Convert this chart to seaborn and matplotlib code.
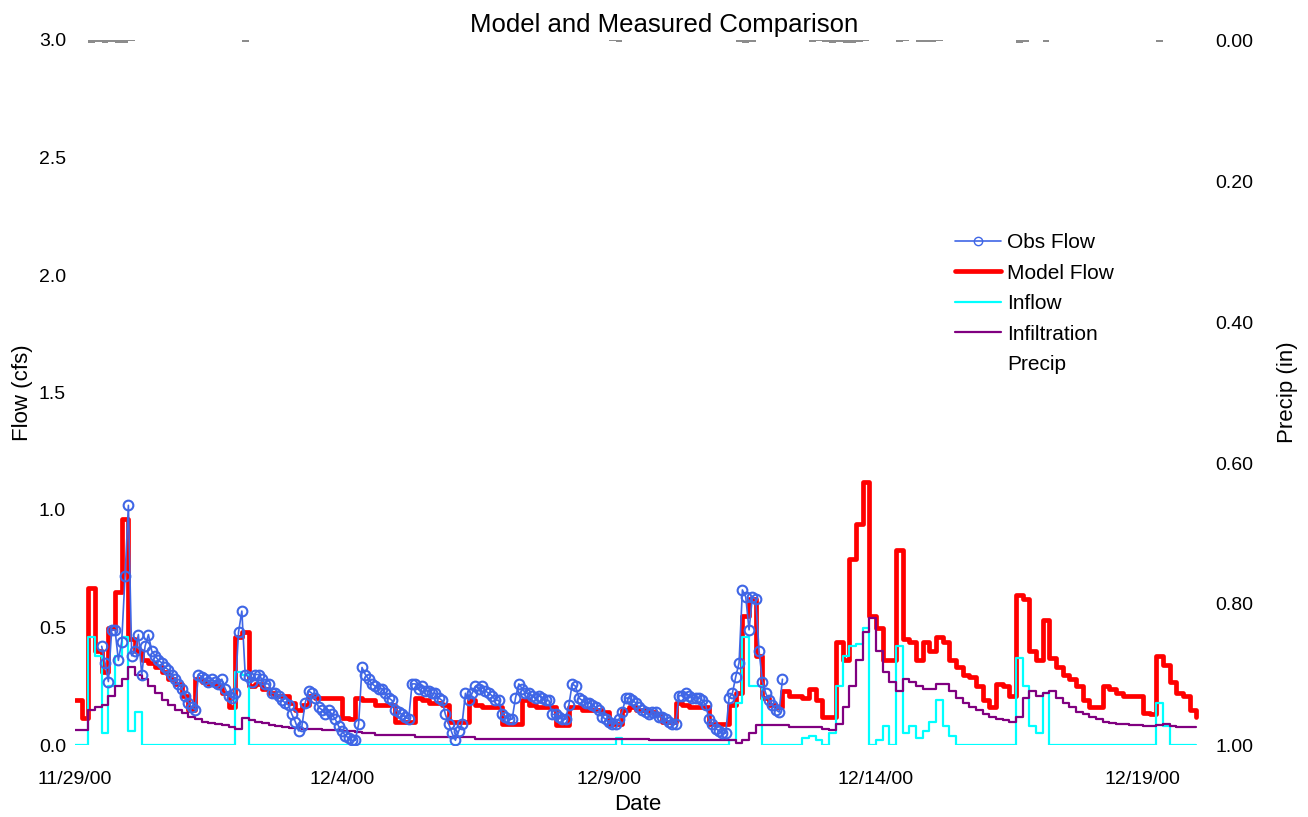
import pandas as pd
import matplotlib
matplotlib.use("Agg")
import matplotlib.pyplot as plt
from matplotlib.lines import Line2D
import seaborn as sns

# ---------------- data ----------------
# simulated series: 3-hour steps from 11/29/2000 00:00, one line per day
series_start = "2000-11-29 00:00"
model_flow = [
    0.19, 0.115, 0.67, 0.40, 0.31, 0.50, 0.65, 0.96,
    0.45, 0.40, 0.36, 0.35, 0.33, 0.31, 0.28, 0.26,
    0.21, 0.15, 0.28, 0.27, 0.26, 0.25, 0.22, 0.16,
    0.46, 0.48, 0.25, 0.26, 0.24, 0.22, 0.21, 0.21,
    0.18, 0.15, 0.17, 0.21, 0.20, 0.20, 0.20, 0.20,
    0.115, 0.11, 0.20, 0.19, 0.19, 0.17, 0.17, 0.17,
    0.10, 0.10, 0.10, 0.20, 0.19, 0.18, 0.18, 0.17,
    0.10, 0.10, 0.10, 0.19, 0.17, 0.16, 0.16, 0.16,
    0.09, 0.09, 0.09, 0.19, 0.17, 0.16, 0.16, 0.16,
    0.085, 0.085, 0.16, 0.16, 0.15, 0.15, 0.15, 0.14,
    0.09, 0.09, 0.15, 0.16, 0.15, 0.15, 0.14, 0.13,
    0.10, 0.10, 0.18, 0.17, 0.16, 0.16, 0.16, 0.09,
    0.09, 0.09, 0.17, 0.22, 0.55, 0.62, 0.38, 0.20,
    0.17, 0.16, 0.23, 0.21, 0.21, 0.20, 0.24, 0.19,
    0.12, 0.12, 0.44, 0.36, 0.79, 0.94, 1.12, 0.55,
    0.50, 0.36, 0.36, 0.83, 0.45, 0.44, 0.36, 0.44,
    0.40, 0.46, 0.44, 0.36, 0.33, 0.30, 0.29, 0.25,
    0.19, 0.16, 0.26, 0.25, 0.21, 0.64, 0.62, 0.40,
    0.36, 0.53, 0.37, 0.33, 0.30, 0.28, 0.25, 0.19,
    0.16, 0.16, 0.25, 0.24, 0.22, 0.21, 0.21, 0.21,
    0.135, 0.13, 0.38, 0.34, 0.27, 0.22, 0.21, 0.15,
    0.12,
]

inflow = [
    0.00, 0.00, 0.46, 0.38, 0.05, 0.25, 0.38, 0.46,
    0.06, 0.14, 0.00, 0.00, 0.00, 0.00, 0.00, 0.00,
    0.00, 0.00, 0.00, 0.00, 0.00, 0.00, 0.00, 0.00,
    0.31, 0.30, 0.00, 0.00, 0.00, 0.00, 0.00, 0.00,
    0.00, 0.00, 0.00, 0.00, 0.00, 0.00, 0.00, 0.00,
    0.00, 0.00, 0.00, 0.00, 0.00, 0.00, 0.00, 0.00,
    0.00, 0.00, 0.00, 0.00, 0.00, 0.00, 0.00, 0.00,
    0.00, 0.00, 0.00, 0.00, 0.00, 0.00, 0.00, 0.00,
    0.00, 0.00, 0.00, 0.00, 0.00, 0.00, 0.00, 0.00,
    0.00, 0.00, 0.00, 0.00, 0.00, 0.00, 0.00, 0.00,
    0.00, 0.03, 0.00, 0.00, 0.00, 0.00, 0.00, 0.00,
    0.00, 0.00, 0.00, 0.00, 0.00, 0.00, 0.00, 0.00,
    0.00, 0.00, 0.02, 0.18, 0.46, 0.25, 0.25, 0.00,
    0.00, 0.00, 0.00, 0.00, 0.00, 0.03, 0.04, 0.02,
    0.00, 0.05, 0.25, 0.38, 0.42, 0.43, 0.50, 0.00,
    0.02, 0.08, 0.00, 0.42, 0.05, 0.08, 0.03, 0.06,
    0.10, 0.19, 0.08, 0.04, 0.00, 0.00, 0.00, 0.00,
    0.00, 0.00, 0.00, 0.00, 0.00, 0.37, 0.25, 0.08,
    0.05, 0.22, 0.00, 0.00, 0.00, 0.00, 0.00, 0.00,
    0.00, 0.00, 0.00, 0.00, 0.00, 0.00, 0.00, 0.00,
    0.00, 0.00, 0.18, 0.08, 0.00, 0.00, 0.00, 0.00,
    0.00,
]

infiltration = [
    0.064, 0.064, 0.15, 0.16, 0.17, 0.21, 0.25, 0.28,
    0.33, 0.30, 0.28, 0.25, 0.22, 0.19, 0.17, 0.15,
    0.135, 0.12, 0.11, 0.10, 0.095, 0.09, 0.085, 0.075,
    0.07, 0.115, 0.105, 0.098, 0.092, 0.085, 0.08, 0.077,
    0.074, 0.072, 0.07, 0.068, 0.066, 0.064, 0.063, 0.062,
    0.06, 0.058, 0.056, 0.052, 0.05, 0.043, 0.043, 0.043,
    0.043, 0.043, 0.043, 0.036, 0.036, 0.036, 0.036, 0.036,
    0.036, 0.036, 0.036, 0.036, 0.026, 0.026, 0.026, 0.026,
    0.026, 0.026, 0.026, 0.026, 0.026, 0.026, 0.026, 0.026,
    0.026, 0.026, 0.026, 0.026, 0.026, 0.026, 0.026, 0.026,
    0.026, 0.026, 0.026, 0.026, 0.026, 0.026, 0.021, 0.021,
    0.021, 0.021, 0.021, 0.021, 0.021, 0.021, 0.021, 0.021,
    0.021, 0.021, 0.021, 0.01, 0.02, 0.05, 0.085, 0.085,
    0.085, 0.085, 0.085, 0.078, 0.078, 0.078, 0.078, 0.078,
    0.068, 0.065, 0.09, 0.16, 0.25, 0.36, 0.48, 0.54,
    0.40, 0.31, 0.27, 0.23, 0.28, 0.27, 0.25, 0.24,
    0.24, 0.26, 0.26, 0.23, 0.20, 0.18, 0.16, 0.15,
    0.13, 0.12, 0.11, 0.105, 0.10, 0.12, 0.20, 0.23,
    0.21, 0.22, 0.23, 0.20, 0.18, 0.16, 0.14, 0.13,
    0.12, 0.11, 0.10, 0.095, 0.09, 0.088, 0.085, 0.083,
    0.08, 0.08, 0.085, 0.09, 0.08, 0.077, 0.077, 0.077,
    0.077,
]

precip = [
    0.0, 0.0, 0.004, 0.003, 0.004, 0.003, 0.004, 0.004,
    0.002, 0.0, 0.0, 0.0, 0.0, 0.0, 0.0, 0.0,
    0.0, 0.0, 0.0, 0.0, 0.0, 0.0, 0.0, 0.0,
    0.0, 0.003, 0.0, 0.0, 0.0, 0.0, 0.0, 0.0,
    0.0, 0.0, 0.0, 0.0, 0.0, 0.0, 0.0, 0.0,
    0.0, 0.0, 0.0, 0.0, 0.0, 0.0, 0.0, 0.0,
    0.0, 0.0, 0.0, 0.0, 0.0, 0.0, 0.0, 0.0,
    0.0, 0.0, 0.0, 0.0, 0.0, 0.0, 0.0, 0.0,
    0.0, 0.0, 0.0, 0.0, 0.0, 0.0, 0.0, 0.0,
    0.0, 0.0, 0.0, 0.0, 0.0, 0.0, 0.0, 0.0,
    0.002, 0.003, 0.0, 0.0, 0.0, 0.0, 0.0, 0.0,
    0.0, 0.0, 0.0, 0.0, 0.0, 0.0, 0.0, 0.0,
    0.0, 0.0, 0.0, 0.003, 0.004, 0.003, 0.0, 0.0,
    0.0, 0.0, 0.0, 0.0, 0.0, 0.0, 0.003, 0.002,
    0.003, 0.004, 0.003, 0.004, 0.004, 0.003, 0.002, 0.0,
    0.0, 0.0, 0.0, 0.003, 0.002, 0.0, 0.003, 0.003,
    0.003, 0.002, 0.0, 0.0, 0.0, 0.0, 0.0, 0.0,
    0.0, 0.0, 0.0, 0.0, 0.0, 0.004, 0.003, 0.0,
    0.0, 0.003, 0.0, 0.0, 0.0, 0.0, 0.0, 0.0,
    0.0, 0.0, 0.0, 0.0, 0.0, 0.0, 0.0, 0.0,
    0.0, 0.0, 0.003, 0.0, 0.0, 0.0, 0.0, 0.0,
    0.0,
]

# observed flow: 90-minute readings from 11/29/2000 12:00, 8 per line (12 h)
obs_start = "2000-11-29 12:00"
obs_flow = [
    0.42, 0.35, 0.27, 0.49, 0.49, 0.36, 0.44, 0.72,
    1.02, 0.38, 0.40, 0.47, 0.30, 0.42, 0.47, 0.40,
    0.38, 0.36, 0.35, 0.33, 0.32, 0.30, 0.28, 0.26,
    0.24, 0.21, 0.18, 0.16, 0.15, 0.30, 0.29, 0.28,
    0.27, 0.28, 0.27, 0.26, 0.28, 0.24, 0.21, 0.20,
    0.22, 0.48, 0.57, 0.30, 0.29, 0.27, 0.30, 0.30,
    0.28, 0.26, 0.26, 0.22, 0.22, 0.21, 0.19, 0.18,
    0.17, 0.13, 0.10, 0.06, 0.08, 0.18, 0.23, 0.22,
    0.20, 0.16, 0.15, 0.13, 0.15, 0.13, 0.11, 0.08,
    0.06, 0.04, 0.03, 0.02, 0.02, 0.09, 0.33, 0.30,
    0.28, 0.26, 0.25, 0.24, 0.24, 0.22, 0.20, 0.19,
    0.15, 0.14, 0.13, 0.12, 0.11, 0.26, 0.26, 0.24,
    0.25, 0.23, 0.23, 0.22, 0.22, 0.20, 0.19, 0.13,
    0.09, 0.05, 0.02, 0.06, 0.09, 0.22, 0.19, 0.22,
    0.25, 0.24, 0.25, 0.23, 0.22, 0.21, 0.19, 0.19,
    0.13, 0.12, 0.11, 0.11, 0.20, 0.26, 0.24, 0.22,
    0.22, 0.21, 0.20, 0.21, 0.20, 0.19, 0.19, 0.13,
    0.13, 0.12, 0.11, 0.11, 0.17, 0.26, 0.25, 0.20,
    0.19, 0.18, 0.18, 0.17, 0.16, 0.15, 0.12, 0.11,
    0.10, 0.09, 0.09, 0.11, 0.14, 0.20, 0.20, 0.19,
    0.18, 0.16, 0.15, 0.14, 0.13, 0.14, 0.14, 0.12,
    0.12, 0.11, 0.10, 0.09, 0.09, 0.21, 0.21, 0.22,
    0.21, 0.20, 0.20, 0.20, 0.19, 0.17, 0.11, 0.09,
    0.07, 0.06, 0.05, 0.05, 0.20, 0.22, 0.29, 0.35,
    0.66, 0.63, 0.49, 0.63, 0.62, 0.40, 0.27, 0.22,
    0.19, 0.17, 0.15, 0.14, 0.28,
]

x_tick_dates = ["2000-11-29", "2000-12-04", "2000-12-09", "2000-12-14", "2000-12-19"]
x_tick_labels = ["11/29/00", "12/4/00", "12/9/00", "12/14/00", "12/19/00"]
flow_ticks = [0.0, 0.5, 1.0, 1.5, 2.0, 2.5, 3.0]
precip_ticks = [0.0, 0.2, 0.4, 0.6, 0.8, 1.0]

# ---------------- frames ----------------
t_series = pd.date_range(series_start, periods=len(model_flow), freq="3h")
t_obs = pd.date_range(obs_start, periods=len(obs_flow), freq="90min")
df = pd.DataFrame({"time": t_series, "model": model_flow, "inflow": inflow,
                   "infil": infiltration, "precip": precip})
df_obs = pd.DataFrame({"time": t_obs, "obs": obs_flow})

# ---------------- style ----------------
sns.set_style("white")
plt.rcParams["font.family"] = ["Liberation Sans", "DejaVu Sans"]
for key in ("text.color", "axes.labelcolor", "xtick.color", "ytick.color"):
    plt.rcParams[key] = "black"

fig = plt.figure(figsize=(13.08, 8.17), dpi=100)
ax = fig.add_axes([75 / 1308, 72 / 817, 1125 / 1308, 705 / 817])
ax2 = ax.twinx()

c_obs, c_model, c_in, c_inf, c_pr = "#3F66E6", "#FF0000", "#00FFFF", "#800080", "#8C8C8C"

sns.lineplot(data=df, x="time", y="model", ax=ax, color=c_model, lw=3.4,
             drawstyle="steps-post", zorder=2, legend=False)
sns.lineplot(data=df, x="time", y="inflow", ax=ax, color=c_in, lw=1.6,
             drawstyle="steps-post", zorder=3, legend=False)
sns.lineplot(data=df, x="time", y="infil", ax=ax, color=c_inf, lw=1.6,
             drawstyle="steps-post", zorder=4, legend=False)
sns.lineplot(data=df_obs, x="time", y="obs", ax=ax, color=c_obs, lw=1.2,
             marker="o", markersize=7, markerfacecolor="none",
             markeredgecolor=c_obs, markeredgewidth=1.5, zorder=5, legend=False)

# precipitation hangs from the top of the inverted right axis
ax2.bar(df["time"], df["precip"], width=pd.Timedelta(hours=3), align="edge",
        color=c_pr, edgecolor="none")

# ---------------- axes ----------------
x_end = pd.Timestamp(series_start) + pd.Timedelta(hours=505.7)
ax.set_xlim(pd.Timestamp(series_start), x_end)
ax.set_ylim(0, 3.0)
ax2.set_ylim(1.0, 0.0)

ax.set_xticks(pd.to_datetime(x_tick_dates))
ax.set_xticklabels(x_tick_labels)
ax.set_yticks(flow_ticks)
ax.set_yticklabels([f"{v:.1f}" for v in flow_ticks])
ax2.set_yticks(precip_ticks)
ax2.set_yticklabels([f"{v:.2f}" for v in precip_ticks])

for a in (ax, ax2):
    for s in a.spines.values():
        s.set_visible(False)
    a.grid(False)

ax.tick_params(axis="x", length=0, pad=19, labelsize=14)
ax.tick_params(axis="y", length=0, pad=6.5, labelsize=14)
ax2.tick_params(axis="y", length=0, pad=11, labelsize=14)

ax.set_xlabel("Date", fontsize=16, labelpad=4)
ax.set_ylabel("Flow (cfs)", fontsize=16, labelpad=4)
ax2.set_ylabel("Precip (in)", fontsize=16, labelpad=17)
ax.set_title("Model and Measured Comparison", fontsize=18.5, pad=6, x=0.524)

# ---------------- legend ----------------
handles = [
    Line2D([], [], color=c_obs, lw=1.2, marker="o", markersize=6,
           markerfacecolor="none", markeredgecolor=c_obs),
    Line2D([], [], color=c_model, lw=3.4),
    Line2D([], [], color=c_in, lw=1.6),
    Line2D([], [], color=c_inf, lw=1.6),
    Line2D([], [], color="none", lw=0),
]
labels = ["Obs Flow", "Model Flow", "Inflow", "Infiltration", "Precip"]
ax2.legend(handles, labels, loc="upper left", bbox_to_anchor=(0.782, 0.726),
           frameon=False, fontsize=15, handlelength=2.2, handletextpad=0.3,
           labelspacing=0.55, borderaxespad=0, borderpad=0, numpoints=1)

fig.savefig("out.png", dpi=100)
